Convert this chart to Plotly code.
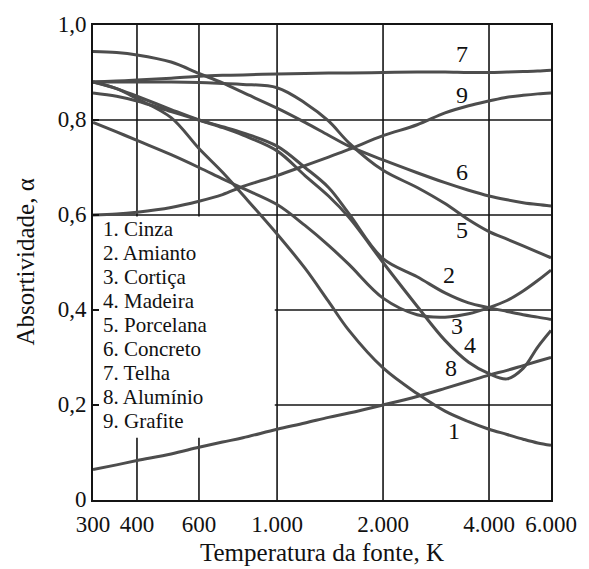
import math
import plotly.graph_objects as go

# Source temperature (K) at which each absorptivity curve is sampled
temp_k = [300, 350, 400, 500, 600, 700, 800, 1000, 1200, 1400, 1600,
          2000, 2500, 3000, 3500, 4000, 4500, 5000, 5500, 6000]

# Absorptivity of each material
alpha_1 = [0.880, 0.866, 0.845, 0.805, 0.740, 0.690, 0.642, 0.560, 0.488, 0.418,
           0.357, 0.278, 0.224, 0.187, 0.165, 0.149, 0.138, 0.128, 0.120, 0.115]
alpha_2 = [0.795, 0.775, 0.757, 0.727, 0.700, 0.676, 0.656, 0.622, 0.578, 0.536,
           0.496, 0.425, 0.390, 0.385, 0.392, 0.405, 0.420, 0.440, 0.462, 0.484]
alpha_3 = [0.857, 0.850, 0.840, 0.818, 0.800, 0.786, 0.773, 0.745, 0.700, 0.658,
           0.603, 0.508, 0.470, 0.436, 0.415, 0.405, 0.397, 0.390, 0.385, 0.380]
alpha_4 = [0.880, 0.866, 0.850, 0.822, 0.800, 0.784, 0.768, 0.735, 0.683, 0.640,
           0.595, 0.500, 0.408, 0.336, 0.290, 0.266, 0.255, 0.277, 0.322, 0.357]
alpha_5 = [0.880, 0.880, 0.880, 0.880, 0.879, 0.877, 0.875, 0.868, 0.836, 0.798,
           0.752, 0.694, 0.658, 0.624, 0.590, 0.565, 0.549, 0.535, 0.522, 0.510]
alpha_6 = [0.944, 0.942, 0.937, 0.922, 0.898, 0.878, 0.858, 0.825, 0.795, 0.768,
           0.745, 0.716, 0.689, 0.668, 0.652, 0.640, 0.632, 0.626, 0.622, 0.619]
alpha_7 = [0.880, 0.882, 0.884, 0.888, 0.892, 0.894, 0.895, 0.897, 0.898, 0.899,
           0.899, 0.900, 0.901, 0.901, 0.900, 0.900, 0.901, 0.902, 0.903, 0.905]
alpha_8 = [0.064, 0.074, 0.083, 0.097, 0.111, 0.122, 0.131, 0.149, 0.162, 0.174,
           0.183, 0.200, 0.218, 0.235, 0.250, 0.263, 0.273, 0.283, 0.292, 0.300]
alpha_9 = [0.600, 0.602, 0.606, 0.616, 0.629, 0.643, 0.660, 0.683, 0.704, 0.722,
           0.738, 0.767, 0.790, 0.815, 0.830, 0.840, 0.848, 0.852, 0.855, 0.857]

materials = ["Cinza", "Amianto", "Cortiça", "Madeira", "Porcelana",
             "Concreto", "Telha", "Alumínio", "Grafite"]
curves = [alpha_1, alpha_2, alpha_3, alpha_4, alpha_5,
          alpha_6, alpha_7, alpha_8, alpha_9]

# Where each curve number is written (temperature, absorptivity)
label_temp = [3182, 3078, 3246, 3521, 3358, 3358, 3358, 3118, 3358]
label_alpha = [0.137, 0.465, 0.358, 0.317, 0.559, 0.683, 0.930, 0.270, 0.845]

x_ticks = [300, 400, 600, 1000, 2000, 4000, 6000]
x_tick_text = ["300", "400", "600", "1.000", "2.000", "4.000", "6.000"]
y_ticks = [0, 0.2, 0.4, 0.6, 0.8, 1.0]
y_tick_text = ["0", "0,2", "0,4", "0,6", "0,8", "1,0"]

SERIF = "Liberation Serif, Times New Roman, serif"
CURVE_COLOR = "#4d4d4d"
GRID_COLOR = "#141414"
TEXT_COLOR = "#111"

# The key sits in the lower-left cell block; grid lines stop around it
KEY_BOTTOM = 0.131
KEY_TOP = 0.597
KEY_RIGHT_T = 985

fig = go.Figure()
for name, alpha in zip(materials, curves):
    fig.add_trace(go.Scatter(
        x=temp_k, y=alpha, mode="lines", name=name,
        line=dict(color=CURVE_COLOR, width=3, shape="spline", smoothing=1.0),
        showlegend=False, hoverinfo="skip",
    ))

# Grid drawn as shapes so the key area can stay clear
grid = []
grid_line = dict(color=GRID_COLOR, width=1.6)
for t in x_ticks[1:-1]:
    if t < KEY_RIGHT_T:
        spans = [(0, KEY_BOTTOM), (KEY_TOP, 1.0)]
    else:
        spans = [(0, 1.0)]
    for y0, y1 in spans:
        grid.append(dict(type="line", xref="x", yref="y", x0=t, x1=t,
                         y0=y0, y1=y1, line=grid_line, layer="below"))
for v in y_ticks[1:-1]:
    t0 = KEY_RIGHT_T if v < KEY_TOP else x_ticks[0]
    grid.append(dict(type="line", xref="x", yref="y", x0=t0, x1=x_ticks[-1],
                     y0=v, y1=v, line=grid_line, layer="below"))

annotations = []
for i, (t, a) in enumerate(zip(label_temp, label_alpha)):
    annotations.append(dict(
        x=math.log10(t), y=a, xref="x", yref="y", text=str(i + 1),
        showarrow=False, font=dict(family=SERIF, size=24, color=TEXT_COLOR),
        xanchor="center", yanchor="middle", yshift=4,
    ))

# Key listing the materials, one line per entry
key_first = 0.575
key_step = 0.0505
for i, name in enumerate(materials):
    annotations.append(dict(
        x=0.017, y=key_first - i * key_step, xref="paper", yref="paper",
        text=f"{i + 1}. {name}", showarrow=False,
        font=dict(family=SERIF, size=21, color=TEXT_COLOR),
        xanchor="left", yanchor="middle", yshift=-2,
    ))

# Axis titles
annotations.append(dict(
    x=0.5, y=0, xref="paper", yref="paper", yshift=-52,
    text="Temperatura da fonte, K", showarrow=False,
    font=dict(family=SERIF, size=25, color=TEXT_COLOR),
    xanchor="center", yanchor="middle",
))
annotations.append(dict(
    x=0, y=0.5, xref="paper", yref="paper", xshift=-68,
    text="Absortividade, α", showarrow=False, textangle=-90,
    font=dict(family=SERIF, size=25, color=TEXT_COLOR),
    xanchor="center", yanchor="middle",
))

fig.update_layout(
    width=589, height=569,
    margin=dict(l=93, r=37, t=18, b=69),
    paper_bgcolor="white", plot_bgcolor="white",
    annotations=annotations,
    shapes=grid,
)

fig.update_xaxes(
    type="log", range=[math.log10(300), math.log10(6000)],
    tickvals=x_ticks, ticktext=x_tick_text,
    showgrid=False,
    showline=True, linecolor=GRID_COLOR, linewidth=2, mirror=True,
    ticks="", zeroline=False, ticklabelstandoff=2,
    tickfont=dict(family=SERIF, size=23, color=TEXT_COLOR),
)
fig.update_yaxes(
    range=[0, 1.0], tickvals=y_ticks, ticktext=y_tick_text,
    showgrid=False,
    showline=True, linecolor=GRID_COLOR, linewidth=2, mirror=True,
    ticks="inside", ticklen=6, tickwidth=1.5, tickcolor=GRID_COLOR,
    zeroline=False, ticklabelshift=-1,
    tickfont=dict(family=SERIF, size=23, color=TEXT_COLOR),
)

fig.write_html("out.html")
